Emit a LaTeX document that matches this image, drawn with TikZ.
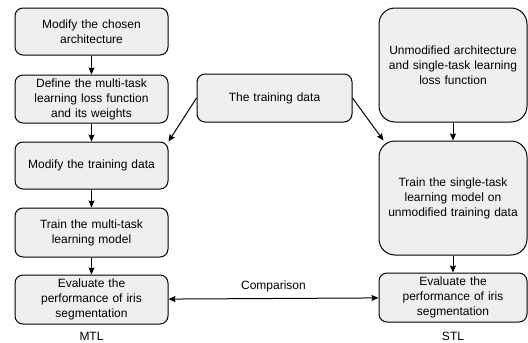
\documentclass[tikz,border=0pt]{standalone}
\usepackage{fontspec}
\setmainfont{Liberation Sans}
\usepackage{xcolor}
\usepackage{tikz}
\usetikzlibrary{arrows.meta,positioning}
\definecolor{boxgray}{RGB}{239,239,239}
\tikzstyle{block} = [rectangle, rounded corners=8pt, minimum width=153pt,
    minimum height=48pt, text centered, text width=145pt, draw=black,
    fill=boxgray, font=\fontsize{12}{15}\selectfont, line width=1pt, inner sep=0pt]
\tikzstyle{bigblock} = [block, rounded corners=16pt, minimum width=148pt,
    minimum height=114pt, text width=140pt]
\tikzstyle{arrow} = [line width=1pt,->,>={Stealth[length=7pt,width=6pt,inset=1pt]}]

\begin{document}
\begin{tikzpicture}[x=1pt, y=-1pt, node distance=18pt and 18pt]
\useasboundingbox (0,0) rectangle (528,343);
% MTL column
\node[block, minimum height=47pt] (arch) at (91.5,31.5) {Modify the chosen\\architecture};
\node[block, below=19pt of arch] (loss) {Define the multi-task\\learning loss function\\and its weights};
\node[block, minimum height=47pt, below=of loss] (moddata) {Modify the training data};
\node[block, minimum height=49pt, below=of moddata] (trainmtl) {Train the multi-task\\learning model};
\node[block, minimum height=49pt, below=17pt of trainmtl] (evalmtl) {Evaluate the\\performance of iris\\segmentation};
% Shared data
\node[block, minimum width=155pt] (data) at (274.5,98) {The training data};
% STL column
\node[bigblock] (unmod) at (453,65) {Unmodified architecture\\and single-task learning\\loss function};
\node[bigblock, below=of unmod] (trainstl) {Train the single-task\\learning model on\\unmodified training data};
\node[block, minimum width=148pt, minimum height=49pt, below=17pt of trainstl] (evalstl) {Evaluate the\\performance of iris\\segmentation};
% Arrows
\draw[arrow] (arch) -- (loss);
\draw[arrow] (loss) -- (moddata);
\draw[arrow] (moddata) -- (trainmtl);
\draw[arrow] (trainmtl) -- (evalmtl);
\draw[arrow] (data.west) -- (moddata.north east);
\draw[arrow] (data.east) -- ([xshift=5pt]trainstl.north west);
\draw[arrow] (unmod) -- (trainstl);
\draw[arrow] (trainstl) -- (evalstl);
\draw[arrow, <->] (evalmtl) -- node[above=3pt, font=\fontsize{12}{14}\selectfont] (cmp) {Comparison} (evalstl);
% Column labels
\node[font=\fontsize{12}{14}\selectfont] (mtl) at (91.5,336) {MTL};
\node[font=\fontsize{12}{14}\selectfont] (stl) at (453,336) {STL};
\end{tikzpicture}
\end{document}
